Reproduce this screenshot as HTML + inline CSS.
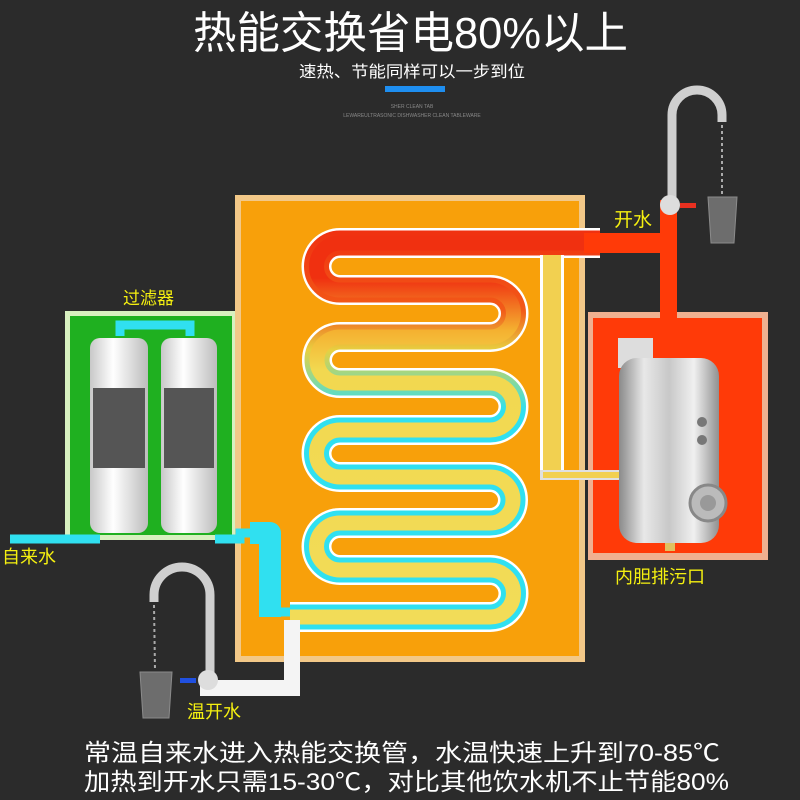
<!DOCTYPE html>
<html><head><meta charset="utf-8"><style>
body{margin:0;background:#2b2b2b;width:800px;height:800px;overflow:hidden;font-family:"Liberation Sans","Noto Sans CJK SC",sans-serif}
</style></head><body>
<svg width="800" height="800" viewBox="0 0 800 800" xmlns="http://www.w3.org/2000/svg" style="position:absolute;left:0;top:0">
<defs>
<linearGradient id="pipe" x1="0" y1="230" x2="0" y2="630" gradientUnits="userSpaceOnUse">
<stop offset="0" stop-color="#f03010"/><stop offset="0.2" stop-color="#f25a18"/><stop offset="0.3" stop-color="#e8d040"/><stop offset="0.45" stop-color="#30e0f0"/><stop offset="1" stop-color="#30e0f0"/>
</linearGradient>
<linearGradient id="inner" x1="0" y1="230" x2="0" y2="630" gradientUnits="userSpaceOnUse">
<stop offset="0" stop-color="#f03010"/><stop offset="0.12" stop-color="#f03010"/><stop offset="0.25" stop-color="#f4b030"/><stop offset="0.35" stop-color="#f2d850"/><stop offset="1" stop-color="#f2dc58"/>
</linearGradient>
<linearGradient id="steel" x1="0" x2="1">
<stop offset="0" stop-color="#8a8a8a"/><stop offset="0.25" stop-color="#e8e8e8"/><stop offset="0.5" stop-color="#c8c8c8"/><stop offset="0.75" stop-color="#f0f0f0"/><stop offset="1" stop-color="#909090"/>
</linearGradient>
<linearGradient id="filt" x1="0" x2="1">
<stop offset="0" stop-color="#c8c8c8"/><stop offset="0.4" stop-color="#ffffff"/><stop offset="1" stop-color="#bcbcbc"/>
</linearGradient>
</defs>
<!-- title -->
<text x="193" y="48" fill="#fff" font-size="44" textLength="435" lengthAdjust="spacingAndGlyphs" font-family="Liberation Sans,Noto Sans CJK SC,sans-serif">热能交换省电80%以上</text>
<text x="299" y="77" fill="#fff" font-size="16" textLength="226" lengthAdjust="spacingAndGlyphs" font-family="Liberation Sans,Noto Sans CJK SC,sans-serif">速热、节能同样可以一步到位</text>
<rect x="385" y="86" width="60" height="6" fill="#1e8ef0"/>
<text x="412" y="108" text-anchor="middle" fill="#888" font-size="5">SHER CLEAN TAB</text>
<text x="412" y="117" text-anchor="middle" fill="#888" font-size="5">LEWAREULTRASONIC DISHWASHER CLEAN TABLEWARE</text>

<!-- green box -->
<rect x="65" y="311" width="172" height="229" fill="#d8f0c0"/>
<rect x="70" y="316" width="162" height="219" fill="#1fb020"/>
<!-- red box -->
<rect x="588" y="312" width="180" height="248" fill="#f0b090"/>
<rect x="593" y="318" width="169" height="235" fill="#ff3a08"/>
<!-- orange box -->
<rect x="235" y="195" width="350" height="467" fill="#f2c888"/>
<rect x="241" y="201" width="338" height="455" fill="#f8a00a"/>

<!-- inlet cyan -->
<path d="M10 539 H100 M120 336 V325 H190 V336 M215 539 H240 V533 H270 V612 H300" fill="none" stroke="#30e0f0" stroke-width="9"/>
<path d="M250 533 H270 V617" fill="none" stroke="#30e0f0" stroke-width="22" stroke-linejoin="round"/>
<!-- serpentine -->
<g fill="none" stroke-linejoin="round">
<path d="M600 243 H340 A23.5 23.5 0 0 0 340 290 H490 A23.5 23.5 0 0 1 490 337 H340 A23 23 0 0 0 340 383 H490 A23.5 23.5 0 0 1 490 430 H340 A23.5 23.5 0 0 0 340 477 H490 A23 23 0 0 1 490 523 H340 A23.5 23.5 0 0 0 340 570 H490 A23.5 23.5 0 0 1 490 617 H290" stroke="#fff" stroke-width="30"/>
<path d="M600 243 H340 A23.5 23.5 0 0 0 340 290 H490 A23.5 23.5 0 0 1 490 337 H340 A23 23 0 0 0 340 383 H490 A23.5 23.5 0 0 1 490 430 H340 A23.5 23.5 0 0 0 340 477 H490 A23 23 0 0 1 490 523 H340 A23.5 23.5 0 0 0 340 570 H490 A23.5 23.5 0 0 1 490 617 H290" stroke="url(#pipe)" stroke-width="25"/>
<path d="M600 243 H340 A23.5 23.5 0 0 0 340 290 H490 A23.5 23.5 0 0 1 490 337 H340 A23 23 0 0 0 340 383 H490 A23.5 23.5 0 0 1 490 430 H340 A23.5 23.5 0 0 0 340 477 H490 A23 23 0 0 1 490 523 H340 A23.5 23.5 0 0 0 340 570 H490 A23.5 23.5 0 0 1 490 617 H290" stroke="url(#inner)" stroke-width="15"/>
</g>
<!-- return pipe yellow -->
<rect x="540" y="255" width="24" height="225" fill="#fff"/>
<rect x="543" y="255" width="18" height="222" fill="#f2d050"/>
<rect x="540" y="470" width="82" height="10" fill="#e0e0e0"/>
<rect x="543" y="472" width="79" height="6" fill="#f2d050"/>
<!-- red hot pipe -->
<rect x="584" y="233" width="93" height="20" fill="#ff3a08"/>
<rect x="660" y="200" width="17" height="160" fill="#ff3a08"/>
<!-- white warm pipe -->
<path d="M292 620 V688 H200" fill="none" stroke="#f4f4f4" stroke-width="16"/>
<!-- tank -->
<rect x="618" y="338" width="35" height="30" fill="#ddd"/>
<rect x="619" y="358" width="100" height="185" rx="18" fill="url(#steel)"/>
<circle cx="708" cy="503" r="18" fill="#bbb" stroke="#888" stroke-width="3"/>
<circle cx="708" cy="503" r="8" fill="#999"/>
<circle cx="702" cy="422" r="5" fill="#777"/><circle cx="702" cy="440" r="5" fill="#777"/>
<rect x="665" y="543" width="10" height="8" fill="#e0c060"/>
<!-- top faucet -->
<path d="M672 205 V115 A25 25 0 0 1 722 115 V122" fill="none" stroke="#cfcfcf" stroke-width="9"/>
<circle cx="670" cy="205" r="10" fill="#ddd"/>
<rect x="680" y="203" width="16" height="5" fill="#e83020"/>
<line x1="722" y1="125" x2="722" y2="195" stroke="#aaa" stroke-width="2" stroke-dasharray="3 3"/>
<path d="M708 197 H737 L734 243 H711 Z" fill="#999" opacity="0.6" stroke="#ccc"/>
<!-- bottom faucet -->
<path d="M210 680 V595 A28 28 0 0 0 154 595 V602" fill="none" stroke="#cfcfcf" stroke-width="9"/>
<circle cx="208" cy="680" r="10" fill="#ddd"/>
<rect x="180" y="678" width="16" height="5" fill="#2050e0"/>
<line x1="154" y1="605" x2="155" y2="670" stroke="#aaa" stroke-width="2" stroke-dasharray="3 3"/>
<path d="M140 672 H172 L169 718 H143 Z" fill="#999" opacity="0.6" stroke="#ccc"/>
<!-- filters -->
<rect x="90" y="338" width="58" height="195" rx="10" fill="url(#filt)"/>
<rect x="161" y="338" width="56" height="195" rx="10" fill="url(#filt)"/>
<rect x="93" y="388" width="52" height="80" fill="#555"/>
<rect x="164" y="388" width="50" height="80" fill="#555"/>
<!-- labels -->
<g font-family="Liberation Sans,Noto Sans CJK SC,sans-serif" fill="#f5f010" font-size="17">
<text x="123" y="304">过滤器</text>
<text x="2" y="563" font-size="18">自来水</text>
<text x="614" y="226" font-size="19">开水</text>
<text x="615" y="583" font-size="18">内胆排污口</text>
<text x="187" y="718" font-size="18">温开水</text>
</g>
<g font-family="Liberation Sans,Noto Sans CJK SC,sans-serif" fill="#fff" font-size="24">
<text x="84" y="761" textLength="636" lengthAdjust="spacingAndGlyphs">常温自来水进入热能交换管，水温快速上升到70-85℃</text>
<text x="84" y="790" textLength="645" lengthAdjust="spacingAndGlyphs">加热到开水只需15-30℃，对比其他饮水机不止节能80%</text>
</g>
</svg>
</body></html>
